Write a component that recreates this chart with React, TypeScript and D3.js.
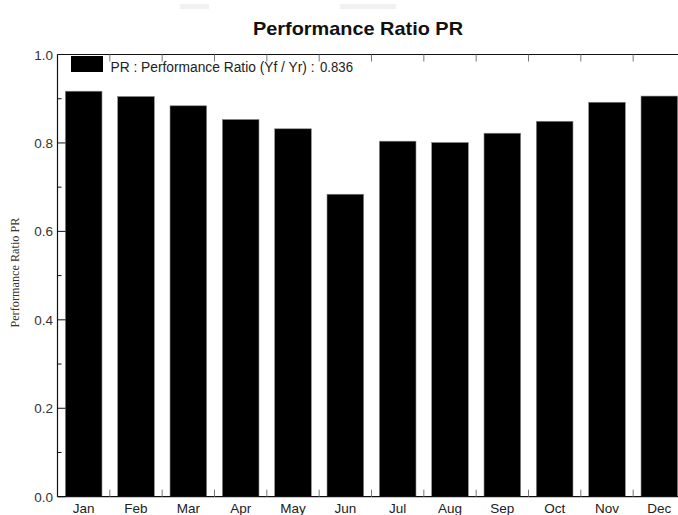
import React from 'react';
import * as d3 from 'd3';

// Monthly performance ratio
const months = ['Jan', 'Feb', 'Mar', 'Apr', 'May', 'Jun', 'Jul', 'Aug', 'Sep', 'Oct', 'Nov', 'Dec'];
const prValues = [0.917, 0.905, 0.884, 0.853, 0.832, 0.684, 0.804, 0.801, 0.822, 0.849, 0.892, 0.906];
const majorTicks = [0, 0.2, 0.4, 0.6, 0.8, 1.0];
const minorTicks = [0.1, 0.3, 0.5, 0.7, 0.9];
const legendLabel = 'PR : Performance Ratio (Yf / Yr) :';
const legendValue = '0.836';

const W = 678;
const H = 515;
const margin = { left: 57.5, top: 54.5, right: 685.5, bottom: 496.7 };

export default function App() {
  const x = d3.scaleBand<string>()
    .domain(months)
    .range([margin.left, margin.right])
    .paddingInner(0.3)
    .paddingOuter(0.15);
  const step = x.step();
  const y = d3.scaleLinear().domain([0, 1]).range([margin.bottom, margin.top]);
  const sans = 'Liberation Sans, Arial, sans-serif';

  return (
    <svg width={W} height={H} style={{ position: 'absolute', left: 0, top: 0, background: '#fff' }}>
      {/* faint scan artefacts at the very top */}
      <rect x={180} y={4} width={29} height={5} fill="#f1f1f1" />
      <rect x={340} y={4} width={56} height={5} fill="#f1f1f1" />

      <text x={358} y={35} textAnchor="middle" fontFamily={sans} fontWeight="bold" fontSize={19} fill="#111"
        textLength={210} lengthAdjust="spacingAndGlyphs">
        Performance Ratio PR
      </text>

      {/* bars */}
      {months.map((m, i) => (
        <rect
          key={m}
          x={x(m)}
          y={y(prValues[i])}
          width={x.bandwidth()}
          height={y(0) - y(prValues[i])}
          fill="#000"
          stroke="#888"
          strokeWidth={0.6}
        />
      ))}

      {/* frame */}
      <line x1={margin.left} x2={W} y1={margin.top} y2={margin.top} stroke="#111" strokeWidth={1.2} />
      <line x1={margin.left} x2={W} y1={margin.bottom} y2={margin.bottom} stroke="#111" strokeWidth={1.2} />
      <line x1={margin.left} x2={margin.left} y1={margin.top} y2={margin.bottom} stroke="#111" strokeWidth={1.2} />

      {/* month separators, top and bottom */}
      {months.slice(1).map((m, i) => {
        const sx = margin.left + step * (i + 1);
        return (
          <g key={'sep' + m}>
            <line x1={sx} x2={sx} y1={margin.top} y2={margin.top + 7} stroke="#777" strokeWidth={1} />
            <line x1={sx} x2={sx} y1={margin.bottom} y2={margin.bottom - 7} stroke="#777" strokeWidth={1} />
          </g>
        );
      })}

      {/* y ticks */}
      {majorTicks.map(t => (
        <g key={'maj' + t}>
          <line x1={margin.left} x2={margin.left + 8} y1={y(t)} y2={y(t)} stroke="#111" strokeWidth={1} />
          <text x={53} y={y(t) + 5} textAnchor="end" fontFamily={sans} fontSize={13.5} fill="#333">
            {d3.format('.1f')(t)}
          </text>
        </g>
      ))}
      {minorTicks.map(t => (
        <line key={'min' + t} x1={margin.left} x2={margin.left + 4} y1={y(t)} y2={y(t)} stroke="#111" strokeWidth={1} />
      ))}

      {/* month labels */}
      {months.map(m => (
        <text key={'lbl' + m} x={(x(m) as number) + x.bandwidth() / 2} y={512.5} textAnchor="middle" fontFamily={sans} fontSize={13.5} fill="#222">
          {m}
        </text>
      ))}

      {/* y axis title */}
      <text
        transform={`translate(19, ${(margin.top + margin.bottom) / 2 - 3}) rotate(-90)`}
        textAnchor="middle"
        fontFamily="Liberation Serif, Times New Roman, serif"
        fontSize={12.5}
        fill="#333"
        textLength={110}
        lengthAdjust="spacingAndGlyphs"
      >
        Performance Ratio PR
      </text>

      {/* legend */}
      <rect x={71} y={56} width={32} height={16} fill="#000" />
      <text x={110.5} y={72} fontFamily={sans} fontSize={14} fill="#222" textLength={204} lengthAdjust="spacingAndGlyphs">
        {legendLabel}
      </text>
      <text x={320} y={72} fontFamily={sans} fontSize={14} fill="#222" textLength={33} lengthAdjust="spacingAndGlyphs">
        {legendValue}
      </text>
    </svg>
  );
}
